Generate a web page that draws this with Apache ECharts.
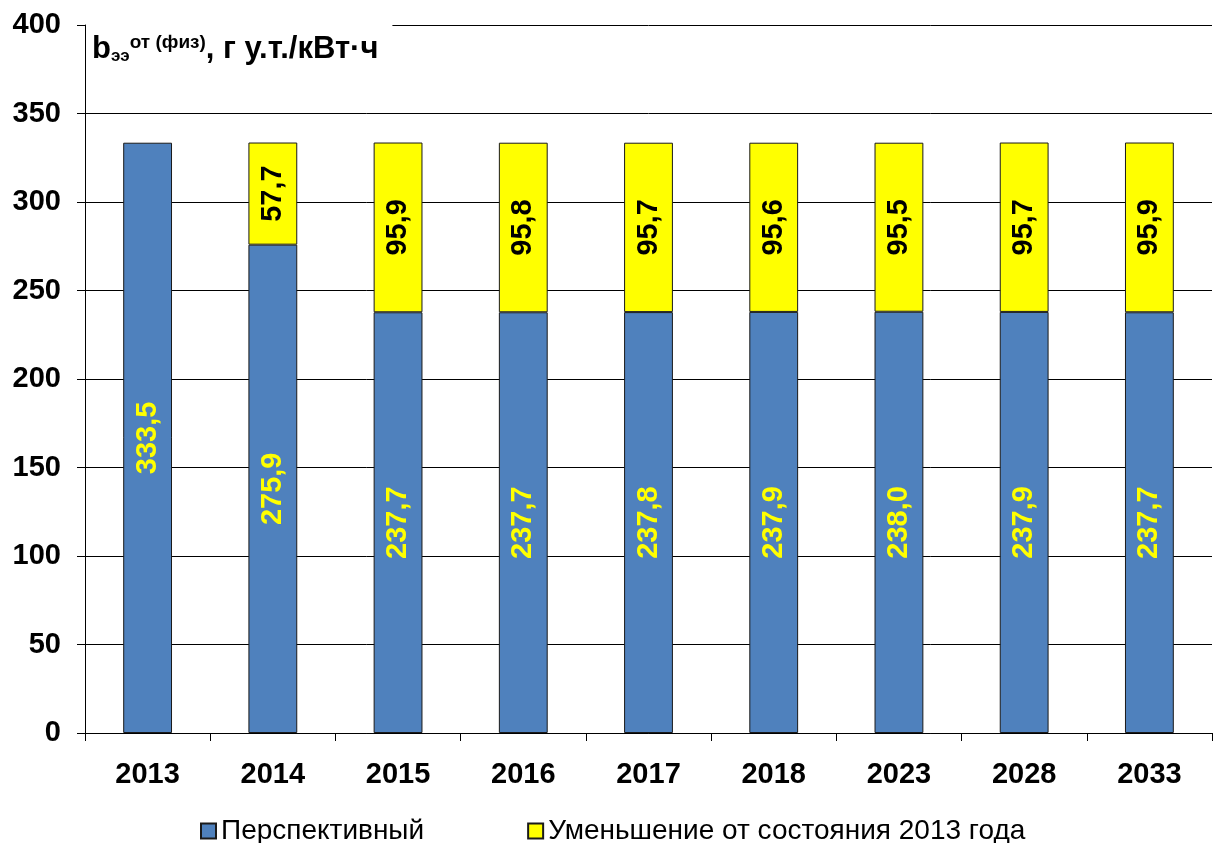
<!DOCTYPE html>
<html>
<head>
<meta charset="utf-8">
<script src="https://cdn.jsdelivr.net/npm/echarts@6/dist/echarts.min.js"></script>
<style>
html, body { margin: 0; padding: 0; background: #fff; }
#mainChart { width: 1216px; height: 843px; }
</style>
</head>
<body>
<div id="mainChart"></div>
<script>
	// данные
	var years = ['2013', '2014', '2015', '2016', '2017', '2018', '2023', '2028', '2033'];
	var perspective = [333.5, 275.9, 237.7, 237.7, 237.8, 237.9, 238.0, 237.9, 237.7];
	var reduction = [null, 57.7, 95.9, 95.8, 95.7, 95.6, 95.5, 95.7, 95.9];
	var yTicks = [0, 50, 100, 150, 200, 250, 300, 350, 400];

	function fmt(v) {
		return v.toFixed(1).replace('.', ',');
	}

	var myChart = echarts.init(document.getElementById('mainChart'));
	var option = {
		backgroundColor : '#ffffff',
		animation : false,
		textStyle : { fontFamily : 'Liberation Sans, Arial, sans-serif' },
		grid : { left : 85, right : 4, top : 25, bottom : 110, containLabel : false },
		title : {
			text : '{b|b}{sub|ээ}{sup|от (физ)}{b|, г у.т./кВт·ч}',
			left : 86,
			top : 20,
			padding : [13, 14, 8, 6],
			backgroundColor : '#ffffff',
			z : 10,
			textStyle : {
				rich : {
					b : { fontSize : 31, fontWeight : 'bold', color : '#000', fontFamily : 'Liberation Sans', verticalAlign : 'bottom', lineHeight : 32 },
					sub : { fontSize : 17, fontWeight : 'bold', color : '#000', fontFamily : 'Liberation Sans', verticalAlign : 'bottom', lineHeight : 17 },
					sup : { fontSize : 19, fontWeight : 'bold', color : '#000', fontFamily : 'Liberation Sans', verticalAlign : 'top', lineHeight : 19, padding : [0, 0, 18, 0] }
				}
			}
		},
		legend : {
			top : 812,
			left : 195,
			itemGap : 103,
			itemWidth : 15,
			itemHeight : 15,
			icon : 'rect',
			textStyle : { fontSize : 28, color : '#000', fontFamily : 'Liberation Sans' },
			data : ['Перспективный', 'Уменьшение от состояния 2013 года']
		},
		xAxis : {
			type : 'category',
			data : years,
			axisLine : { lineStyle : { color : '#000', width : 1 } },
			axisTick : { show : true, length : 8, lineStyle : { color : '#000' } },
			axisLabel : { fontSize : 29, fontWeight : 'bold', color : '#000', margin : 27 }
		},
		yAxis : {
			type : 'value',
			min : 0,
			max : 400,
			interval : 50,
			axisLine : { show : true, lineStyle : { color : '#000' } },
			axisTick : { show : true, length : 8, lineStyle : { color : '#000' } },
			axisLabel : {
				fontSize : 29, fontWeight : 'bold', color : '#000', margin : 24,
				formatter : function(v) { return yTicks.indexOf(v) >= 0 ? String(v) : ''; }
			},
			splitLine : { lineStyle : { color : '#000', width : 1 } }
		},
		series : [ {
			name : 'Перспективный',
			type : 'bar',
			stack : 'b',
			barWidth : '39%',
			data : perspective,
			itemStyle : { color : '#4f81bd', borderColor : '#1a1a1a', borderWidth : 1 },
			label : {
				show : true,
				position : 'inside',
				rotate : 90,
				color : '#ffff00',
				fontSize : 29,
				fontWeight : 'bold',
				formatter : function(p) { return fmt(p.value); }
			}
		}, {
			name : 'Уменьшение от состояния 2013 года',
			type : 'bar',
			stack : 'b',
			data : reduction,
			itemStyle : { color : '#ffff00', borderColor : '#1a1a1a', borderWidth : 1 },
			label : {
				show : true,
				position : 'inside',
				rotate : 90,
				color : '#000',
				fontSize : 29,
				fontWeight : 'bold',
				formatter : function(p) { return p.value == null ? '' : fmt(p.value); }
			}
		} ]
	};
	myChart.setOption(option, true);
</script>
</body>
</html>
